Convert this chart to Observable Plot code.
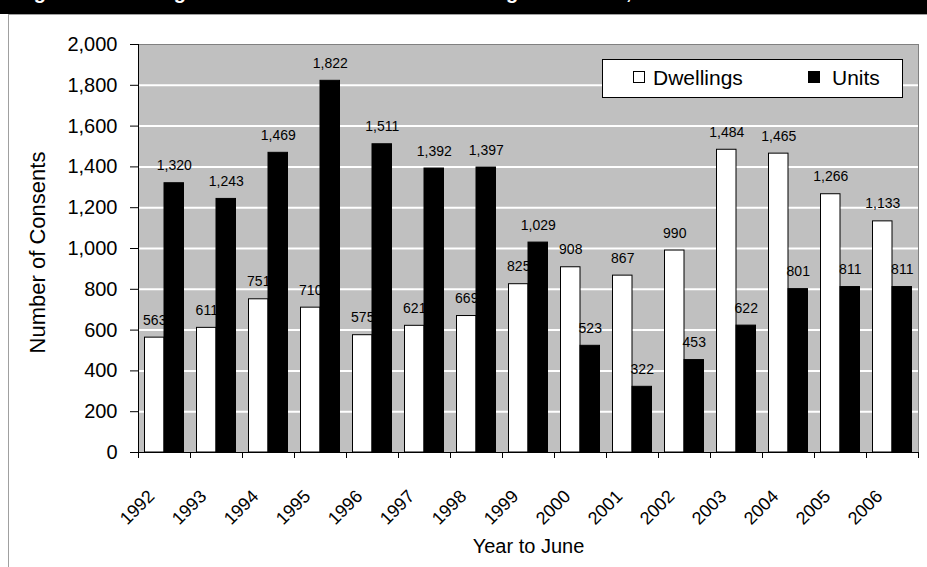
<!DOCTYPE html>
<html>
<head>
<meta charset="utf-8">
<script src="https://cdn.jsdelivr.net/npm/d3@7"></script>
<script src="https://cdn.jsdelivr.net/npm/@observablehq/plot@0.6"></script>
<style>
  html, body { margin: 0; padding: 0; background: #fff; width: 927px; height: 567px; overflow: hidden;
    font-family: "Liberation Sans", Arial, sans-serif; }
  #titlebar { position: absolute; left: 0; top: 0; width: 927px; height: 14px; background: #000; overflow: hidden; }
  #titlebar span { position: absolute; left: 16px; top: -20px; color: #fff; white-space: nowrap;
    font: bold 20px/24px "Liberation Sans", Arial, sans-serif; }
  #box { position: absolute; left: 8px; top: 14px; width: 919px; height: 553px;
    border-left: 1px solid #a0a0a0; border-top: 1px solid #a0a0a0; box-sizing: border-box; }
  #chart { position: absolute; left: 0; top: 15px; }
  #legend { position: absolute; left: 602px; top: 59px; width: 301px; height: 39px; box-sizing: border-box;
    background: #fff; border: 1px solid #000; }
  #legend .sw { position: absolute; top: 11px; width: 12px; height: 12px; box-sizing: border-box; border: 1px solid #000; }
  #legend .lt { position: absolute; top: 6px; font-size: 21px; line-height: 24px; color: #000; }
</style>
</head>
<body>
<div id="titlebar"><span>Figure 3: Building Consents Issued for New Dwellings and Units, 1992 - 2006</span></div>
<div id="box"></div>
<div id="chart"></div>
<div id="legend"></div>
<script>
// ---- data ----
const years = [1992, 1993, 1994, 1995, 1996, 1997, 1998, 1999, 2000, 2001, 2002, 2003, 2004, 2005, 2006];
const dwellings = [563, 611, 751, 710, 575, 621, 669, 825, 908, 867, 990, 1484, 1465, 1266, 1133];
const units = [1320, 1243, 1469, 1822, 1511, 1392, 1397, 1029, 523, 322, 453, 622, 801, 811, 811];
const series = ["Dwellings", "Units"];
const seriesFill = ["#ffffff", "#000000"];
const yTicks = [0, 200, 400, 600, 800, 1000, 1200, 1400, 1600, 1800, 2000];
const yLabel = "Number of Consents";
const xLabel = "Year to June";

// ---- derived table ----
const rows = years.flatMap((yr, i) => [
  {year: yr, series: series[0], value: dwellings[i], side: -1},
  {year: yr, series: series[1], value: units[i], side: 1}
]);
const barW = 0.375; // fraction of a year band per bar
const bounds = [...years.map(y => y - 0.5), years[years.length - 1] + 0.5];
const fmt = d3.format(",");
const font = '"Liberation Sans", Arial, sans-serif';

const chart = Plot.plot({
  width: 927,
  height: 552,
  marginLeft: 138,
  marginRight: 9,
  marginTop: 29,
  marginBottom: 115,
  style: {fontFamily: font, background: "transparent", overflow: "visible", color: "#000"},
  x: {domain: [bounds[0], bounds[bounds.length - 1]], axis: null},
  y: {domain: [yTicks[0], yTicks[yTicks.length - 1]], axis: null},
  marks: [
    Plot.frame({fill: "#c0c0c0", stroke: "#808080"}),
    Plot.gridY(yTicks.slice(1, -1), {stroke: "#ffffff", strokeOpacity: 1, strokeWidth: 2}),
    Plot.rect(rows, {
      x1: d => d.side < 0 ? d.year - barW : d.year,
      x2: d => d.side < 0 ? d.year : d.year + barW,
      y1: 0,
      y2: "value",
      fill: d => seriesFill[series.indexOf(d.series)],
      stroke: "#000",
      strokeWidth: 1
    }),
    Plot.text(rows, {
      x: d => d.year + d.side * barW / 2,
      y: "value",
      text: d => fmt(d.value),
      dy: -13,
      lineAnchor: "bottom",
      fontSize: 14,
      fill: "#000"
    }),
    Plot.ruleY([0], {stroke: "#000"}),
    Plot.ruleX([bounds[0]], {stroke: "#000"}),
    Plot.axisX({ticks: bounds, tickSize: 6, tickFormat: () => "", label: null, stroke: "#000"}),
    Plot.axisY({ticks: yTicks, tickSize: 8, tickPadding: 13, tickFormat: d => fmt(d), fontSize: 20, label: null, stroke: "#000", fill: "#000"}),
    Plot.text(years, {
      x: d => d,
      text: d => String(d),
      frameAnchor: "bottom",
      dx: -9,
      dy: 45,
      rotate: -45,
      textAnchor: "end",
      lineAnchor: "bottom",
      fontSize: 18,
      fill: "#000"
    }),
    Plot.text([yLabel], {frameAnchor: "left", dx: -101, dy: 4, rotate: -90, fontSize: 22, textAnchor: "middle", lineAnchor: "middle", fill: "#000"}),
    Plot.text([xLabel], {frameAnchor: "bottom", dy: 94, fontSize: 20, textAnchor: "middle", lineAnchor: "middle", fill: "#000"})
  ]
});
document.getElementById("chart").appendChild(chart);

// legend built from the series arrays
const legend = document.getElementById("legend");
const swLeft = [30, 205], txLeft = [50, 229];
series.forEach((s, i) => {
  const sw = document.createElement("span");
  sw.className = "sw";
  sw.style.left = swLeft[i] + "px";
  sw.style.background = seriesFill[i];
  legend.appendChild(sw);
  const t = document.createElement("span");
  t.className = "lt";
  t.style.left = txLeft[i] + "px";
  t.textContent = s;
  legend.appendChild(t);
});
</script>
</body>
</html>
